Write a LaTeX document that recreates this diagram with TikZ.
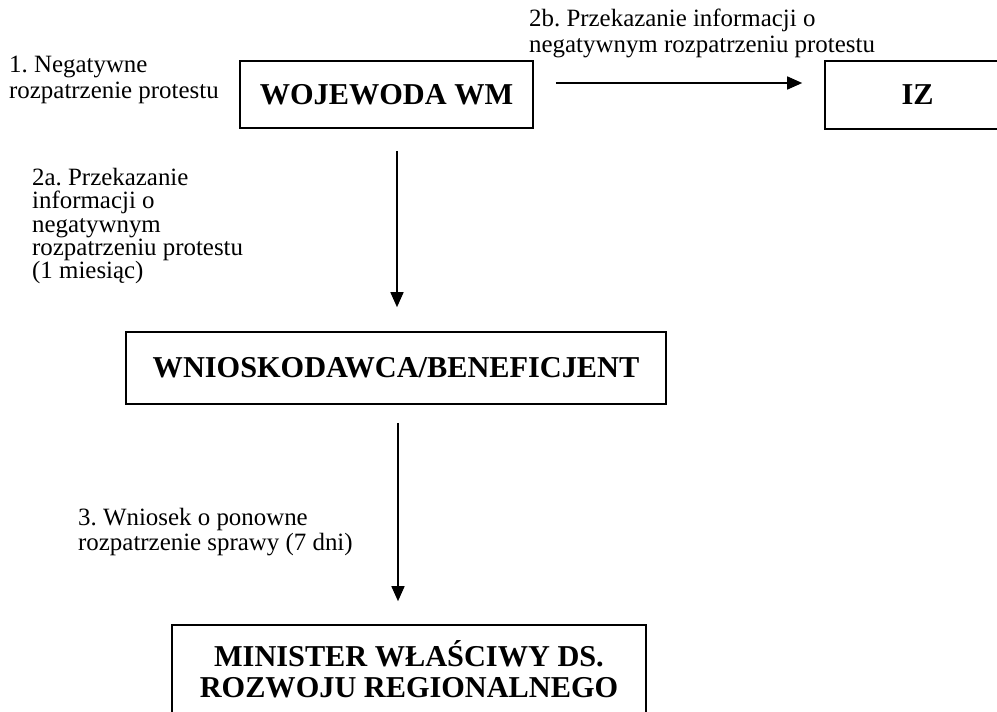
\documentclass[tikz,border=0pt]{standalone}
\usepackage{fontspec}
\setmainfont{Liberation Serif}[BoldFont={Liberation Serif Bold},ItalicFont={Liberation Serif Italic}]
\usetikzlibrary{arrows.meta}
\frenchspacing
\begin{document}
\begin{tikzpicture}[x=1pt,y=-1pt,
  box/.style={draw,line width=1.6pt,inner sep=0pt,font=\fontsize{30.3}{31}\selectfont\bfseries},
  arr/.style={line width=1.5pt,-{Triangle[length=15pt,width=13pt]}},
  lbl/.style={anchor=north west,inner sep=0pt,align=left,font=\fontsize{24.9}{25.5}\selectfont}]
\useasboundingbox (0,0) rectangle (997,712);
\fill[white] (0,0) rectangle (997,712);
% boxes
\node[box,minimum width=293pt,minimum height=67pt] (woj) at (386.5,94.5) {WOJEWODA WM};
\node[box,minimum width=185pt,minimum height=68pt] (iz) at (917.5,95) {IZ};
\node[box,minimum width=540pt,minimum height=72pt] (wn) at (396,368) {WNIOSKODAWCA/BENEFICJENT};
\node[box,minimum width=474pt,minimum height=88pt,align=center] (min) at (409,669)
  {MINISTER WŁAŚCIWY DS.\\ROZWOJU REGIONALNEGO};
% connectors (canvas y points upward, so positive yshift moves up)
\draw[arr] ([xshift=22pt,yshift=11.5pt]woj.east) -- ([xshift=-22pt,yshift=12pt]iz.west);
\draw[arr] ([xshift=10.5pt,yshift=-22pt]woj.south) -- ([xshift=1pt,yshift=24pt]wn.north);
\draw[arr] ([xshift=2pt,yshift=-18pt]wn.south) -- ([xshift=-11pt,yshift=23pt]min.north);
% labels
\node[lbl] (l1) at (9,56) {1. Negatywne\\rozpatrzenie protestu};
\node[lbl] (l2b) at (529,9) {2b. Przekazanie informacji o\\negatywnym rozpatrzeniu protestu};
\node[lbl,font=\fontsize{24.9}{23.3}\selectfont] (l2a) at (32,168) {2a. Przekazanie\\informacji o\\negatywnym\\rozpatrzeniu protestu\\(1 miesiąc)};
\node[lbl] (l3) at (78,508) {3. Wniosek o ponowne\\rozpatrzenie sprawy (7 dni)};
\end{tikzpicture}
\end{document}
